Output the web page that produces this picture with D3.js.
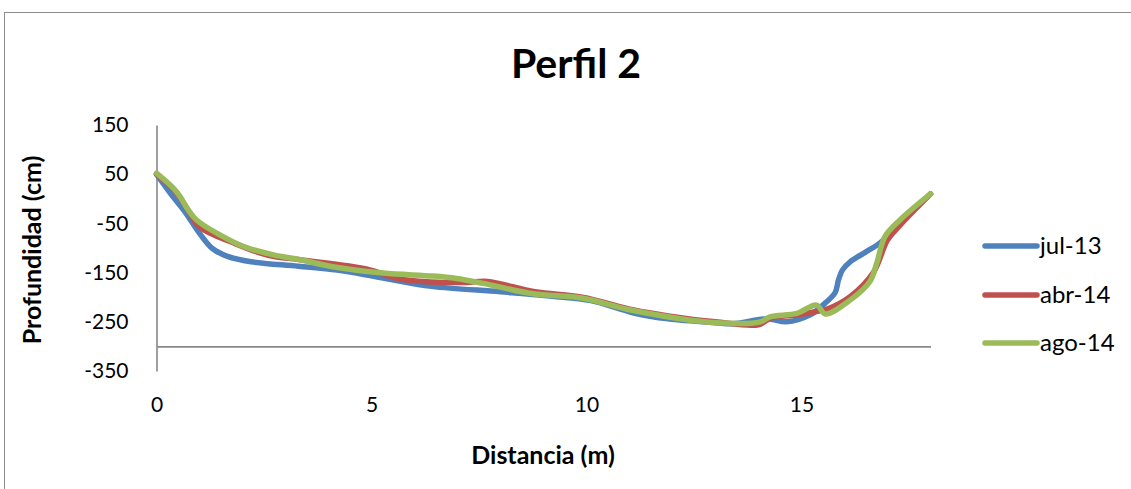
<!DOCTYPE html>
<html>
<head>
<meta charset="utf-8">
<script src="https://cdn.jsdelivr.net/npm/d3@7"></script>
<style>
  html, body { margin: 0; padding: 0; background: #fff; }
  svg text { font-family: Lato, "Open Sans", sans-serif; fill: #000; }
</style>
</head>
<body>
<svg id="chart" width="1131" height="489"></svg>
<script>
// Perfil 2 — cross-section depth surveys (distance in m, depth in cm)
const seriesNames = ["jul-13", "abr-14", "ago-14"];
const seriesColors = ["#4F81BD", "#C0504D", "#9BBB59"];

const jul13 = [
  [0, 50], [0.35, 8], [0.65, -25], [1.0, -70], [1.3, -101], [1.65, -117],
  [2.2, -128], [3.3, -137], [4.2, -145], [5.2, -160], [6.4, -178], [8.0, -189],
  [9.2, -198], [10.1, -207], [11.1, -232], [11.9, -244], [13.0, -252], [13.4, -254],
  [14.2, -244], [14.65, -250], [15.2, -236], [15.55, -212], [15.78, -191],
  [15.86, -165], [15.95, -145], [16.13, -128], [16.5, -108], [16.85, -88],
  [17.3, -49], [18, 10]
];
const abr14 = [
  [0, 50], [0.45, 14], [0.75, -25], [1.0, -57], [1.8, -90], [2.6, -115],
  [3.35, -124], [4.9, -143], [5.65, -163], [6.4, -169], [7.2, -170], [7.7, -168],
  [8.8, -189], [9.9, -200], [11.1, -226], [11.9, -238], [13.0, -250], [14.0, -256],
  [14.3, -242], [14.9, -236], [15.4, -228], [15.6, -224], [16.13, -199],
  [16.67, -150], [17.0, -84], [17.3, -53], [18, 10]
];
const ago14 = [
  [0, 52], [0.47, 14], [0.74, -23], [0.93, -43], [1.4, -70], [2.02, -97],
  [2.72, -114], [3.34, -124], [4.1, -138], [5.27, -151], [6.43, -157], [6.98, -162],
  [7.6, -172], [8.76, -193], [9.92, -202], [11.08, -227], [13.03, -252], [14.04, -250],
  [14.27, -240], [14.89, -233], [15.35, -216], [15.55, -234], [16.13, -206],
  [16.59, -168], [16.75, -131], [16.94, -77], [17.29, -43], [18, 10]
];
const seriesData = [jul13, abr14, ago14];

const xTicks = [0, 5, 10, 15];
const yTicks = [150, 50, -50, -150, -250, -350];

const svg = d3.select("#chart");
const W = 1131, H = 489;
const plain = d => String(d);

// chart area frame
svg.append("rect").attr("x", 0).attr("y", 0).attr("width", W).attr("height", H).attr("fill", "#fff");
svg.append("rect")
  .attr("x", 4.5).attr("y", 12.5).attr("width", W + 20).attr("height", H + 20)
  .attr("fill", "none").attr("stroke", "#8c8c8c").attr("stroke-width", 1);

const x = d3.scaleLinear().domain([0, 18]).range([156.5, 930.5]);
const y = d3.scaleLinear().domain([-350, 150]).range([371, 125]);

// vertical axis
const yAxis = svg.append("g").attr("transform", `translate(${x(0)},0)`)
  .call(d3.axisLeft(y).tickValues(yTicks).tickSize(0).tickPadding(28).tickFormat(plain));
yAxis.select(".domain").attr("stroke", "#888").attr("stroke-width", 1.6);
yAxis.selectAll("text").attr("font-size", 21).attr("fill", "#000")
  .style("font-family", "Lato, sans-serif");

// horizontal axis crosses at -300, labels sit below the plot area
const xLine = svg.append("g").attr("transform", `translate(0,${y(-300)})`)
  .call(d3.axisBottom(x).tickValues([]).tickSize(0));
xLine.select(".domain").attr("stroke", "#888").attr("stroke-width", 1.6);

const xAxis = svg.append("g").attr("transform", `translate(0,${y(-350)})`)
  .call(d3.axisBottom(x).tickValues(xTicks).tickSize(0).tickPadding(26).tickFormat(plain));
xAxis.select(".domain").remove();
xAxis.selectAll("text").attr("font-size", 21).attr("fill", "#000")
  .style("font-family", "Lato, sans-serif");

// profile lines
const line = d3.line().x(d => x(d[0])).y(d => y(d[1])).curve(d3.curveCatmullRom.alpha(0.5));
seriesData.forEach((data, i) => {
  svg.append("path")
    .datum(data)
    .attr("d", line)
    .attr("fill", "none")
    .attr("stroke", seriesColors[i])
    .attr("stroke-width", 5.5)
    .attr("stroke-linejoin", "round")
    .attr("stroke-linecap", "round");
});

// titles
svg.append("text").attr("x", 576).attr("y", 78).attr("text-anchor", "middle")
  .attr("font-size", 41).attr("font-weight", "bold").text("Perfil 2");

svg.append("text").attr("x", 543).attr("y", 464).attr("text-anchor", "middle")
  .attr("font-size", 25).attr("font-weight", "bold").text("Distancia (m)");

svg.append("text")
  .attr("transform", "translate(41,250) rotate(-90)")
  .attr("text-anchor", "middle")
  .attr("font-size", 25).attr("font-weight", "bold").text("Profundidad (cm)");

// legend
const legendY = [246, 295, 343];
const legend = svg.append("g");
seriesNames.forEach((name, i) => {
  legend.append("line")
    .attr("x1", 985).attr("x2", 1037)
    .attr("y1", legendY[i]).attr("y2", legendY[i])
    .attr("stroke", seriesColors[i]).attr("stroke-width", 5.5).attr("stroke-linecap", "round");
  legend.append("text")
    .attr("x", 1040).attr("y", legendY[i]).attr("dy", "0.35em")
    .attr("font-size", 24).text(name);
});
</script>
</body>
</html>
